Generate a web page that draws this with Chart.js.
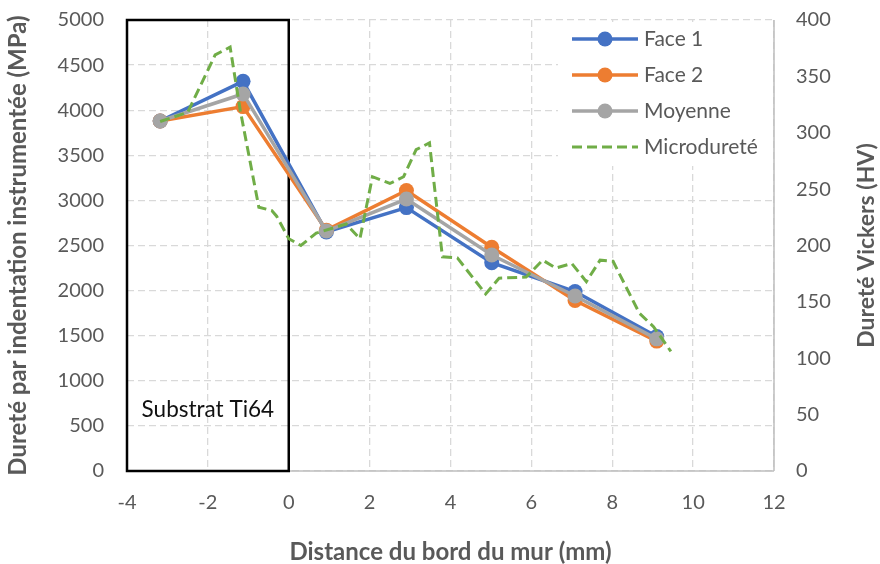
<!DOCTYPE html>
<html>
<head>
<meta charset="utf-8">
<script src="https://cdn.jsdelivr.net/npm/chart.js@4.4.1/dist/chart.umd.min.js"></script>
<style>
  html, body { margin: 0; padding: 0; background: #fff; }
  #wrap { width: 880px; height: 564px; }
</style>
</head>
<body>
<div id="wrap"><canvas id="chart" width="880" height="564"></canvas></div>
<script>
// indentation profile (MPa) vs distance from the wall edge (mm)
const distances = [-3.18, -1.13, 0.93, 2.91, 5.02, 7.08, 9.1];
const face1 = [3880, 4320, 2650, 2920, 2310, 1990, 1490];
const face2 = [3880, 4040, 2670, 3110, 2480, 1890, 1440];
const moyenne = [3880, 4180, 2660, 3015, 2395, 1940, 1465];

// Vickers microhardness profile (HV)
const microX = [-3.18, -2.5, -1.82, -1.45, -1.2, -0.74, -0.42, -0.3, 0.0, 0.3, 0.68, 1.42, 1.76,
  2.07, 2.5, 2.84, 3.15, 3.48, 3.8, 4.17, 4.87, 5.2, 5.87, 6.28, 6.6, 7.0, 7.36, 7.7, 8.02,
  8.67, 9.02, 9.45];
const microHV = [310, 318, 369, 376, 320, 234, 231, 226, 206, 200, 211, 219, 206,
  261, 255, 261, 285, 291, 190, 189, 157, 171, 172, 187, 180, 184, 168, 187, 186,
  140, 128, 106];

const seriesNames = ['Face 1', 'Face 2', 'Moyenne', 'Microdureté'];
const colors = ['#4472C4', '#ED7D31', '#A5A5A5', '#70AD47'];

const FONT = 'Lato, "Open Sans", sans-serif';
const GREY_TEXT = '#595959';

const toPoints = (xs, ys) => xs.map((x, i) => ({ x: x, y: ys[i] }));

function faceDataset(label, values, color, order) {
  return {
    label: label,
    data: toPoints(distances, values),
    yAxisID: 'y',
    borderColor: color,
    backgroundColor: color,
    borderWidth: 3.5,
    pointRadius: 7.5,
    pointBackgroundColor: color,
    pointBorderColor: color,
    pointBorderWidth: 0,
    order: order,
  };
}

// solid axis lines under the marks, right title and the in-plot legend on top
const chartFrame = {
  id: 'chartFrame',
  beforeDatasetsDraw(chart) {
    const { ctx, chartArea: area } = chart;
    ctx.save();
    ctx.strokeStyle = '#bfbfbf';
    ctx.lineWidth = 1.5;
    ctx.beginPath();
    ctx.moveTo(area.left, area.bottom);
    ctx.lineTo(area.right, area.bottom);
    ctx.moveTo(area.right, area.top);
    ctx.lineTo(area.right, area.bottom);
    ctx.stroke();
    ctx.restore();
  },
  afterDraw(chart, args, opts) {
    const { ctx, chartArea: area } = chart;

    // right axis title, read bottom to top
    ctx.save();
    ctx.fillStyle = GREY_TEXT;
    ctx.font = 'bold 23px ' + FONT;
    ctx.textAlign = 'center';
    ctx.textBaseline = 'middle';
    ctx.translate(opts.rightTitleX, (area.top + area.bottom) / 2);
    ctx.rotate(-Math.PI / 2);
    ctx.fillText(opts.rightTitle, 0, 0);
    ctx.restore();

    // legend box
    const lg = opts.legend;
    ctx.save();
    ctx.fillStyle = '#fff';
    ctx.fillRect(lg.x, lg.y, lg.w, lg.h);
    chart.data.datasets.forEach((ds, i) => {
      const cy = lg.firstY + i * lg.step;
      ctx.strokeStyle = ds.borderColor;
      ctx.lineWidth = ds.borderWidth;
      ctx.setLineDash(ds.borderDash || []);
      ctx.beginPath();
      ctx.moveTo(lg.lineX, cy);
      ctx.lineTo(lg.lineX + lg.lineW, cy);
      ctx.stroke();
      ctx.setLineDash([]);
      if (ds.pointRadius) {
        ctx.fillStyle = ds.borderColor;
        ctx.beginPath();
        ctx.arc(lg.lineX + lg.lineW / 2, cy, ds.pointRadius, 0, Math.PI * 2);
        ctx.fill();
      }
      ctx.fillStyle = GREY_TEXT;
      ctx.font = '21px ' + FONT;
      ctx.textAlign = 'left';
      ctx.textBaseline = 'middle';
      ctx.fillText(ds.label, lg.lineX + lg.lineW + 6, cy);
    });
    ctx.restore();
  }
};

// black frame marking the substrate zone (x from -4 to 0)
const substratBox = {
  id: 'substratBox',
  beforeDatasetsDraw(chart, args, opts) {
    const { ctx, scales: { x, y } } = chart;
    const left = x.getPixelForValue(opts.from);
    const right = x.getPixelForValue(opts.to);
    const top = y.getPixelForValue(y.max);
    const bottom = y.getPixelForValue(y.min);
    ctx.save();
    ctx.strokeStyle = '#000';
    ctx.lineWidth = 2.5;
    ctx.strokeRect(left, top, right - left, bottom - top);
    ctx.fillStyle = '#111';
    ctx.font = '22.5px ' + FONT;
    ctx.textAlign = 'center';
    ctx.textBaseline = 'middle';
    ctx.fillText(opts.label, (left + right) / 2, y.getPixelForValue(opts.labelAt));
    ctx.restore();
  }
};

const datasets = [
  faceDataset(seriesNames[0], face1, colors[0], 4),
  faceDataset(seriesNames[1], face2, colors[1], 3),
  faceDataset(seriesNames[2], moyenne, colors[2], 2),
  {
    label: seriesNames[3],
    data: toPoints(microX, microHV),
    yAxisID: 'y1',
    borderColor: colors[3],
    backgroundColor: colors[3],
    borderWidth: 3,
    borderDash: [10, 5],
    pointRadius: 0,
    order: 1,
  },
];

const gridDash = { display: false, dash: [7, 4] };
const tickFont = { family: FONT, size: 20 };
const plainNumber = (value) => String(value);

// fixed axis boxes so the plot area sits at the same place every time
function fixBox(size) {
  return function (scale) {
    if (scale.isHorizontal()) scale.height = size;
    else scale.width = size;
    scale.paddingTop = 0;
    scale.paddingBottom = 0;
    scale.paddingLeft = 0;
    scale.paddingRight = 0;
  };
}

new Chart(document.getElementById('chart'), {
  type: 'line',
  data: { datasets: datasets },
  plugins: [chartFrame, substratBox],
  options: {
    responsive: false,
    animation: false,
    layout: { padding: { top: 20, left: 0, right: 0, bottom: 0 } },
    plugins: {
      legend: { display: false },
      tooltip: { enabled: false },
      substratBox: { from: -4, to: 0, label: 'Substrat Ti64', labelAt: 680 },
      chartFrame: {
        rightTitle: 'Dureté Vickers (HV)',
        rightTitleX: 867,
        legend: { x: 558, y: 22, w: 214, h: 144, lineX: 572, lineW: 66, firstY: 39, step: 36 },
      },
    },
    scales: {
      x: {
        type: 'linear',
        min: -4,
        max: 12,
        ticks: { stepSize: 2, padding: 20, color: GREY_TEXT, font: tickFont, callback: plainNumber },
        grid: { color: '#d9d9d9', lineWidth: 1.3, drawTicks: false },
        border: gridDash,
        title: {
          display: true,
          text: 'Distance du bord du mur (mm)',
          color: GREY_TEXT,
          font: { family: FONT, size: 24, weight: 'bold', lineHeight: 1 },
          padding: { top: 0, bottom: 0 },
        },
        afterFit: fixBox(93),
      },
      y: {
        position: 'left',
        min: 0,
        max: 5000,
        ticks: { stepSize: 500, padding: 23, color: GREY_TEXT, font: tickFont, callback: plainNumber },
        grid: { color: '#d9d9d9', lineWidth: 1.3, drawTicks: false },
        border: gridDash,
        title: {
          display: true,
          text: 'Dureté par indentation instrumentée (MPa)',
          color: GREY_TEXT,
          font: { family: FONT, size: 24, weight: 'bold', lineHeight: 1 },
          padding: { top: 6, bottom: 0 },
        },
        afterFit: fixBox(127),
      },
      y1: {
        position: 'right',
        min: 0,
        max: 400,
        ticks: { stepSize: 50, padding: 22, color: GREY_TEXT, font: tickFont, callback: plainNumber },
        grid: { display: false, drawTicks: false },
        border: { display: false },
        afterFit: fixBox(106),
      },
    },
  },
});
</script>
</body>
</html>
